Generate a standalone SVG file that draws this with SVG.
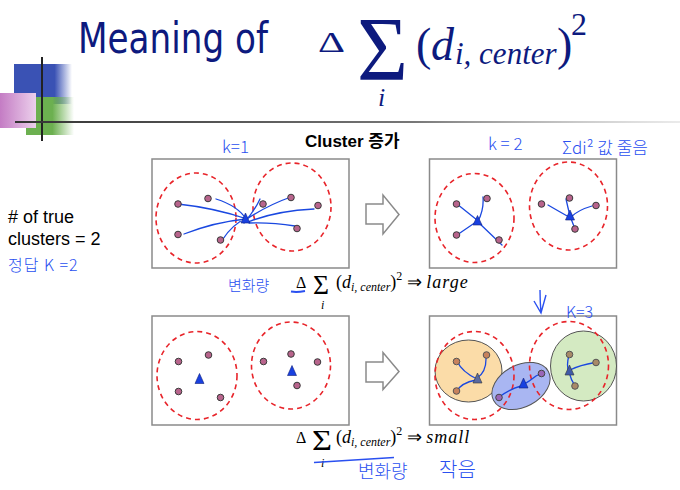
<svg xmlns="http://www.w3.org/2000/svg" width="680" height="490" viewBox="0 0 680 490">
<style>
.box{fill:#fff;stroke:#8a8a8a;stroke-width:1.5}
.dash{fill:none;stroke:#e8242a;stroke-width:1.6;stroke-dasharray:5 4}
.pt{fill:#b8648c;stroke:#3a3a3a;stroke-width:1}
.tri{fill:#1840e0;stroke:#10207a;stroke-width:0.6}
.ln{fill:none;stroke:#1a48e0;stroke-width:1.3;stroke-linecap:round}
.hand{font-family:"Noto Sans CJK KR","DejaVu Sans",sans-serif;fill:#2a50f0;font-weight:300}
.arr{fill:#fff;stroke:#8a8a8a;stroke-width:1.5}
.serif{font-family:"Liberation Serif","Times New Roman",serif}
.title{fill:#0d1a7e}
</style>
<defs>
<linearGradient id="gB" x1="0" x2="1" y1="0" y2="0"><stop offset="0.7" stop-color="#3a52b4"/><stop offset="1" stop-color="#3a52b4" stop-opacity="0"/></linearGradient>
<linearGradient id="gG" x1="0" x2="1" y1="0" y2="0"><stop offset="0.55" stop-color="#6cb050"/><stop offset="1" stop-color="#6cb050" stop-opacity="0"/></linearGradient>
<linearGradient id="gP" x1="0" x2="1" y1="0" y2="0"><stop offset="0" stop-color="#c47cc4"/><stop offset="1" stop-color="#ecd0ec"/></linearGradient>
<linearGradient id="gL" x1="0" x2="1" y1="0" y2="0"><stop offset="0" stop-color="#333"/><stop offset="0.6" stop-color="#777"/><stop offset="1" stop-color="#bbb" stop-opacity="0.3"/></linearGradient>
</defs>

<g id="decoration">
<rect x="14" y="64" width="58" height="40" fill="url(#gB)"/>
<rect x="26" y="97" width="48" height="38" fill="url(#gG)"/>
<rect x="0" y="93" width="36" height="35" fill="url(#gP)"/>
<rect x="41" y="57" width="2" height="84" fill="#222"/>
<rect x="15" y="121" width="665" height="2" fill="url(#gL)"/>
</g>

<g id="title" class="title">
<text x="78" y="53" font-family="DejaVu Sans,sans-serif" font-size="43" textLength="190" lengthAdjust="spacingAndGlyphs">Meaning of</text>
<text x="318" y="52" class="serif" font-size="30" textLength="27" lengthAdjust="spacingAndGlyphs">Δ</text>
<text x="357" y="80" class="serif" font-size="90" textLength="51" lengthAdjust="spacingAndGlyphs">Σ</text>
<text x="378" y="106" class="serif" font-size="26" font-style="italic">i</text>
<text x="416" y="60" class="serif" font-size="46">(</text>
<text x="431" y="60" class="serif" font-size="46" font-style="italic">d</text>
<text x="455" y="64" class="serif" font-size="31" font-style="italic">i, center</text>
<text x="557" y="60" class="serif" font-size="46">)</text>
<text x="571" y="35" class="serif" font-size="32">2</text>
</g>

<g id="cluster-label">
<text x="305" y="147" font-family="Liberation Sans,'Noto Sans CJK KR',sans-serif" font-weight="bold" font-size="17">Cluster 증가</text>
</g>

<g id="true-clusters">
<text x="8" y="223" font-family="Liberation Sans,sans-serif" font-size="18">
<tspan x="8" y="223"># of true</tspan><tspan x="8" y="245">clusters = 2</tspan></text>
<text x="8" y="271" class="hand" font-size="16" letter-spacing="1">정답 K =2</text>
</g>

<g id="box-k1">
<rect class="box" x="152" y="159" width="197" height="109"/>
<ellipse class="dash" cx="196" cy="218" rx="40" ry="45"/>
<ellipse class="dash" cx="292" cy="207" rx="39" ry="44"/>
<path class="ln" d="M178 204 Q215 208 247 219 M216 199 Q238 206 246 219 M184 234 Q215 222 246 219 M223 239 Q232 225 246 218 M260 199 Q255 210 244 223 M291 197 Q268 205 247 219 M314 209 Q275 211 248 222 M295 226 Q270 222 249 223"/>
<circle class="pt" cx="178" cy="204" r="3.3"/><circle class="pt" cx="208" cy="198.5" r="3.3"/>
<circle class="pt" cx="178" cy="234.5" r="3.3"/><circle class="pt" cx="220.5" cy="240" r="3.3"/>
<circle class="pt" cx="263" cy="204" r="3.3"/><circle class="pt" cx="291" cy="197.5" r="3.3"/>
<circle class="pt" cx="318" cy="205.5" r="3.3"/><circle class="pt" cx="297" cy="228.5" r="3.3"/>
<path class="tri" d="M245.5 213 L250 223 L241 223 Z"/>
<text x="222" y="153" class="hand" font-size="17">k=1</text>
</g>

<g id="box-k2">
<rect class="box" x="429.5" y="159" width="187" height="109"/>
<ellipse class="dash" cx="474.5" cy="218" rx="39.5" ry="44.5"/>
<ellipse class="dash" cx="568.5" cy="206" rx="39" ry="44"/>
<path class="ln" d="M457 204 L477 220 M483 197 Q484 210 478 221 M457 235 L476 222 M502 245 L478 222 M548 205 Q560 212 569 217 M566 199 Q568 208 570 216 M592 206 Q578 210 571 217 M575 229 L570 216"/>
<circle class="pt" cx="456.5" cy="204" r="3.3"/><circle class="pt" cx="487" cy="198.5" r="3.3"/>
<circle class="pt" cx="456.5" cy="235" r="3.3"/><circle class="pt" cx="499" cy="240" r="3.3"/>
<circle class="pt" cx="541.5" cy="204" r="3.3"/><circle class="pt" cx="569.5" cy="198" r="3.3"/>
<circle class="pt" cx="596" cy="205.5" r="3.3"/><circle class="pt" cx="575" cy="229" r="3.3"/>
<path class="tri" d="M477.5 215.5 L482 225 L473 225 Z"/>
<path class="tri" d="M570 210 L574.5 220 L565.5 220 Z"/>
<text x="488" y="150" class="hand" font-size="17">k = 2</text>
<text x="562" y="154" class="hand" font-size="17">Σdi² 값 줄음</text>
</g>

<g id="arrow-top"><path class="arr" d="M366 204 H383 V195 L399 214.5 L383 234 V224 H366 Z"/></g>
<g id="arrow-bottom"><path class="arr" d="M366 362 H383 V352.5 L399 371.5 L383 389.5 V382 H366 Z"/></g>

<g id="formula-large">
<text x="296" y="288" class="serif" font-size="16">Δ</text>
<text x="313" y="294" class="serif" font-size="28" textLength="16" lengthAdjust="spacingAndGlyphs">Σ</text>
<text x="321" y="309" class="serif" font-size="12" font-style="italic">i</text>
<text x="336" y="288" class="serif" font-size="18">(<tspan font-style="italic">d</tspan><tspan font-size="12" font-style="italic" dy="3">i, center</tspan><tspan dy="-3">)</tspan><tspan font-size="12" dy="-8">2</tspan><tspan dy="8"> ⇒ </tspan><tspan font-style="italic" font-size="18" letter-spacing="1">large</tspan></text>
<path d="M291 291.5 Q297 292.5 305 291" fill="none" stroke="#2a50f0" stroke-width="2"/>
<text x="228" y="291" class="hand" font-size="15">변화량</text>
</g>

<g id="box-bl">
<rect class="box" x="152" y="316" width="197" height="109"/>
<ellipse class="dash" cx="197" cy="375.5" rx="40" ry="44"/>
<ellipse class="dash" cx="291" cy="365.5" rx="39.5" ry="43.5"/>
<circle class="pt" cx="178.5" cy="361.5" r="3.3"/><circle class="pt" cx="208.5" cy="355" r="3.3"/>
<circle class="pt" cx="178.5" cy="391.5" r="3.3"/><circle class="pt" cx="220.5" cy="397.5" r="3.3"/>
<circle class="pt" cx="263.5" cy="361.5" r="3.3"/><circle class="pt" cx="291" cy="354" r="3.3"/>
<circle class="pt" cx="317.5" cy="362" r="3.3"/><circle class="pt" cx="297" cy="385.5" r="3.3"/>
<path class="tri" d="M199.5 373.5 L204 383.5 L195 383.5 Z"/>
<path class="tri" d="M292 365.5 L296.5 375.5 L287.5 375.5 Z"/>
</g>

<g id="box-k3">
<rect class="box" x="429.5" y="316" width="187" height="109"/>
<ellipse cx="468.5" cy="371" rx="33.5" ry="31" fill="#fbdca8" stroke="#555" stroke-width="1"/>
<ellipse cx="583.5" cy="366" rx="33" ry="35" fill="#d4eac2" stroke="#555" stroke-width="1"/>
<ellipse cx="521" cy="386" rx="31" ry="21" transform="rotate(-28 521 386)" fill="#a9b6f2" stroke="#555" stroke-width="1"/>
<ellipse class="dash" cx="474.5" cy="375.5" rx="39.5" ry="44"/>
<ellipse class="dash" cx="569" cy="365.5" rx="39.5" ry="44"/>
<path class="ln" d="M457 361 Q462 372 477 379 M486 355 Q487 372 477 378 M457 391 Q461 383 476 380 M499 397 Q512 388 521 386 Q530 381 536 376 L542 373 M569 355 Q566 366 569 372 Q571 380 575 386 M595 362.5 Q580 365 570 370"/>
<circle cx="456.5" cy="361.5" r="3.3" fill="#c8825c" stroke="#555"/>
<circle cx="486.5" cy="355" r="3.3" fill="#c8825c" stroke="#555"/>
<circle cx="456.5" cy="391" r="3.3" fill="#c8825c" stroke="#555"/>
<circle cx="541.5" cy="373.5" r="3.3" fill="#9a66b8" stroke="#444"/>
<circle cx="499" cy="397.5" r="3.3" fill="#9a66b8" stroke="#444"/>
<circle cx="569.5" cy="354.5" r="3.3" fill="#a88a68" stroke="#555"/>
<circle cx="596" cy="362.5" r="3.3" fill="#a88a68" stroke="#555"/>
<circle cx="575" cy="386" r="3.3" fill="#a88a68" stroke="#555"/>
<path d="M477.5 373 L482 383 L473 383 Z" fill="#5a6aa0" stroke="#333" stroke-width="0.6"/>
<path class="tri" d="M523.5 378 L528 388 L519 388 Z"/>
<path d="M569.5 365 L574 375 L565 375 Z" fill="#405aa8" stroke="#333" stroke-width="0.6"/>
<path d="M540 290 Q540 301 541 313 M534 301 L541 313 L546 295" fill="none" stroke="#2a50f0" stroke-width="1.4"/>
<text x="566" y="318" class="hand" font-size="16">K=3</text>
</g>

<g id="formula-small">
<text x="296" y="443" class="serif" font-size="16">Δ</text>
<text x="312" y="450" class="serif" font-size="30" textLength="20" lengthAdjust="spacingAndGlyphs">Σ</text>
<text x="321" y="467" class="serif" font-size="12" font-style="italic">i</text>
<text x="336" y="443" class="serif" font-size="18">(<tspan font-style="italic">d</tspan><tspan font-size="12" font-style="italic" dy="3">i, center</tspan><tspan dy="-3">)</tspan><tspan font-size="12" dy="-8">2</tspan><tspan dy="8"> ⇒ </tspan><tspan font-style="italic" font-size="18" letter-spacing="1">small</tspan></text>
<path d="M314 462.5 Q355 460 394 457.5" fill="none" stroke="#2a50f0" stroke-width="1.4"/>
<text x="358" y="478" class="hand" font-size="18">변화량</text>
<text x="439" y="477" class="hand" font-size="20">작음</text>
</g>
</svg>
